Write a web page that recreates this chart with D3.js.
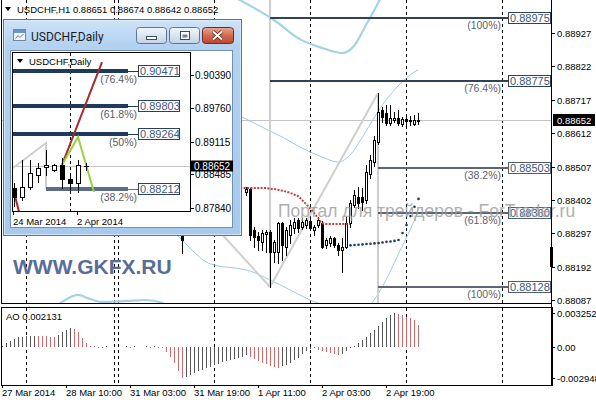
<!DOCTYPE html>
<html>
<head>
<meta charset="utf-8">
<script src="https://cdnjs.cloudflare.com/ajax/libs/d3/7.8.5/d3.min.js"></script>
<style>
  body { margin: 0; background: #fff; }
  svg { display: block; font-family: "Liberation Sans", Arial, sans-serif; }
</style>
</head>
<body>
<div id="chart"></div>
<script>
// ---------- data (H1 chart) ----------
var headerText = "USDCHF,H1 0.88651 0.88674 0.88642 0.88652";
var mainTicks = [0.88927, 0.88822, 0.88717, 0.88612, 0.88507, 0.88402, 0.88297, 0.88192, 0.88087];
var lastPrice = 0.88652;

var timeLabelK = [-77, -61, -45, -29, -13, 3, 19];
var timeLabels = ["27 Mar 2014", "28 Mar 10:00", "31 Mar 03:00", "31 Mar 19:00", "1 Apr 11:00", "2 Apr 03:00", "2 Apr 19:00"];
var separatorK = [-71, -49, -48, -24, 0, 24, 48];

// [bar, open, high, low, close]
var candles = [
  [-32, 0.88300, 0.88340, 0.88235, 0.88276],
  [-16, 0.88427, 0.88443, 0.88417, 0.88436],
  [-15, 0.88436, 0.88439, 0.88276, 0.88292],
  [-14, 0.88307, 0.88317, 0.88254, 0.88285],
  [-13, 0.88288, 0.88301, 0.88244, 0.88276],
  [-12, 0.88270, 0.88307, 0.88244, 0.88298],
  [-11, 0.88295, 0.88307, 0.88238, 0.88301],
  [-10, 0.88301, 0.88307, 0.88128, 0.88238],
  [-9, 0.88238, 0.88276, 0.88207, 0.88270],
  [-8, 0.88238, 0.88332, 0.88203, 0.88329],
  [-7, 0.88329, 0.88332, 0.88213, 0.88260],
  [-6, 0.88254, 0.88317, 0.88229, 0.88307],
  [-5, 0.88292, 0.88339, 0.88266, 0.88323],
  [-4, 0.88314, 0.88345, 0.88298, 0.88332],
  [-3, 0.88339, 0.88345, 0.88301, 0.88314],
  [-2, 0.88317, 0.88345, 0.88310, 0.88332],
  [-1, 0.88323, 0.88345, 0.88314, 0.88339],
  [0, 0.88336, 0.88342, 0.88307, 0.88314],
  [1, 0.88307, 0.88323, 0.88292, 0.88317],
  [2, 0.88323, 0.88348, 0.88317, 0.88339],
  [3, 0.88329, 0.88336, 0.88251, 0.88254],
  [4, 0.88260, 0.88282, 0.88251, 0.88276],
  [5, 0.88266, 0.88288, 0.88257, 0.88282],
  [6, 0.88282, 0.88285, 0.88254, 0.88260],
  [7, 0.88260, 0.88266, 0.88229, 0.88244],
  [8, 0.88244, 0.88282, 0.88175, 0.88254],
  [9, 0.88254, 0.88348, 0.88251, 0.88329],
  [10, 0.88329, 0.88402, 0.88317, 0.88392],
  [11, 0.88386, 0.88433, 0.88380, 0.88417],
  [12, 0.88411, 0.88443, 0.88376, 0.88392],
  [13, 0.88411, 0.88439, 0.88370, 0.88395],
  [14, 0.88402, 0.88512, 0.88392, 0.88490],
  [15, 0.88483, 0.88543, 0.88471, 0.88527],
  [16, 0.88521, 0.88603, 0.88509, 0.88590],
  [17, 0.88584, 0.88738, 0.88578, 0.88678],
  [18, 0.88685, 0.88694, 0.88647, 0.88663],
  [19, 0.88675, 0.88700, 0.88638, 0.88644],
  [20, 0.88644, 0.88700, 0.88638, 0.88660],
  [21, 0.88653, 0.88678, 0.88647, 0.88660],
  [22, 0.88660, 0.88685, 0.88638, 0.88644],
  [23, 0.88641, 0.88663, 0.88634, 0.88656],
  [24, 0.88656, 0.88663, 0.88628, 0.88650],
  [25, 0.88650, 0.88666, 0.88638, 0.88653],
  [26, 0.88641, 0.88669, 0.88638, 0.88653],
  [27, 0.88651, 0.88674, 0.88642, 0.88652]
];

var fibLevels = [0.88975, 0.88775, 0.88503, 0.88360, 0.88128];
var fibNames = ["(100%)", "(76.4%)", "(38.2%)", "(61.8%)", "(100%)"];
var fibFrom = [-10, -10, 17, 17, 17];
var fibSet = [1, 1, 2, 2, 2];
var fibTo = 49.5;

var redStart = -20;
var redValues = [0.88439, 0.88439, 0.88439, 0.88439, 0.88439, 0.88439, 0.88439, 0.88439, 0.88439, 0.88439,
  0.88437, 0.88436, 0.88434, 0.88431, 0.88428, 0.88424, 0.88419, 0.88414, 0.88402, 0.88389,
  0.88376, 0.88361, 0.88345, 0.88329, 0.88326, 0.88326, 0.88326, 0.88326, 0.88326, 0.88326, 0.88326];
var navyStart = 10;
var navyValues = [0.88259, 0.88260, 0.88261, 0.88262, 0.88263, 0.88264, 0.88265, 0.88266, 0.88268,
  0.88270, 0.88271, 0.88273, 0.88276, 0.88298, 0.88323, 0.88351, 0.88380, 0.88405];

var bandThickUpper = [[-20, 0.89047], [-14, 0.89006], [-9, 0.88968], [-3, 0.88911], [3, 0.88880], [8, 0.88864],
  [11, 0.88886], [14, 0.88952], [17, 0.89021], [18, 0.89047]];
var bandThickLower = [[-64, 0.88062], [-62, 0.88081], [-58, 0.88103], [-55, 0.88090], [-52, 0.88081],
  [-46, 0.88084], [-41, 0.88087], [-37, 0.88078], [-35, 0.88059]];
var bandMiddle = [[-20, 0.88679], [-17, 0.88663], [-12, 0.88631], [-7, 0.88600], [-2, 0.88565], [3, 0.88537],
  [7, 0.88521], [10, 0.88543], [13, 0.88597], [16, 0.88660], [19, 0.88716], [22, 0.88760], [25, 0.88795], [27, 0.88811]];
var bandLower = [[-34, 0.88301], [-32, 0.88276], [-29, 0.88238], [-26, 0.88207], [-23, 0.88194], [-19, 0.88188],
  [-15, 0.88178], [-10, 0.88150], [-5, 0.88119], [0, 0.88087], [5, 0.88062], [10, 0.88030], [14, 0.88056],
  [16, 0.88087], [19, 0.88150], [22, 0.88229], [25, 0.88307], [27, 0.88364]];
var fiboTrends = [
  [[-40, 0.88543], [-10, 0.88128]],
  [[-10, 0.88128], [17, 0.88738]],
  [[-10, 0.89050], [-10, 0.88128]],
  [[17, 0.88738], [17, 0.88040]]
];

var aoStart = -77;
var aoValues = [
  0.00015, 0.00040, 0.00060, 0.00080, 0.00092, 0.00100, 0.00104, 0.00108, 0.00110, 0.00107,
  0.00105, 0.00103, 0.00101, 0.00098, 0.00115, 0.00140, 0.00163, 0.00182, 0.00170, 0.00140,
  0.00085, 0.00035, 0.00010, 0.00006, -0.00004, -0.00003, 0.00004, 0, 0, 0,
  0, 0.00004, -0.00003, 0.00003, 0, 0, 0.00004, -0.00004, 0.00003, -0.00005,
  -0.00012, -0.00045, -0.00095, -0.00155, -0.00225, -0.00295, -0.00282, -0.00262, -0.00243, -0.00228,
  -0.00215, -0.00200, -0.00188, -0.00175, -0.00160, -0.00145, -0.00132, -0.00120, -0.00110, -0.00100,
  -0.00090, -0.00080, -0.00092, -0.00110, -0.00130, -0.00150, -0.00166, -0.00180, -0.00190, -0.00195,
  -0.00185, -0.00170, -0.00150, -0.00125, -0.00100, -0.00070, -0.00042, -0.00020, -0.00012, -0.00025,
  -0.00035, -0.00045, -0.00056, -0.00066, -0.00078, -0.00062, -0.00038, -0.00012, 0.00015, 0.00040,
  0.00070, 0.00100, 0.00132, 0.00166, 0.00202, 0.00240, 0.00276, 0.00305, 0.00325, 0.00318,
  0.00305, 0.00290, 0.00275, 0.00262, 0.00213
];
var aoTicks = [0.003252, 0, -0.002948];
var aoTickLabels = ["0.003252", "0.00", "-0.002948"];
var aoText = "AO 0.002131";

// ---------- data (Daily inset) ----------
var insetTitle = "USDCHF,Daily";
var insetTicks = [0.90390, 0.89760, 0.89115, 0.88485, 0.87840];
var insetCandles = [
  [0, 0.88224, 0.88320, 0.87879, 0.88051],
  [1, 0.88051, 0.88761, 0.87994, 0.88243],
  [2, 0.88243, 0.88761, 0.88205, 0.88511],
  [3, 0.88473, 0.88703, 0.88339, 0.88607],
  [4, 0.88626, 0.88952, 0.88473, 0.88665],
  [5, 0.88569, 0.88684, 0.88550, 0.88665],
  [6, 0.88665, 0.88799, 0.88224, 0.88396],
  [7, 0.88396, 0.88511, 0.88128, 0.88320],
  [8, 0.88320, 0.88761, 0.88147, 0.88665],
  [9, 0.88640, 0.88703, 0.88569, 0.88652]
];
var insetFibLevels = [0.90471, 0.89803, 0.89264, 0.88212];
var insetFibNames = ["(76.4%)", "(61.8%)", "(50%)", "(38.2%)"];
var insetFibFrom = [-1, -1, -1, 4];
var insetFibTo = 14.25;
var insetRed = [[6, 0.88665], [11, 0.90639]];
var insetRed2 = [[-0.125, 0.88224], [0.625, 0.87764]];
var insetGreen = [[6, 0.88665], [8, 0.89201], [10, 0.88147]];
var insetGray = [[-0.125, 0.88607], [4, 0.89086], [4, 0.88212]];
var insetTimeK = [0, 8];
var insetTimeLabels = ["24 Mar 2014", "2 Apr 2014"];
var insetSeparatorK = [7];

// ---------- scales ----------
var width = 596, height = 400;
var axisX = 552, mainBottom = 304, aoTop = 307, aoBottom = 385;

var x = d3.scaleLinear().domain([-77, 27]).range([2, 418]);
var y = d3.scaleLinear().domain([0.88087, 0.88927]).range([300, 33]);
var yAO = d3.scaleLinear().domain([-0.002948, 0.003252]).range([378, 313]);
var xIn = d3.scaleLinear().domain([0, 9]).range([14, 86]);
var yIn = d3.scaleLinear().domain([0.87840, 0.90390]).range([208, 75]);

var svg = d3.select("#chart").append("svg").attr("width", width).attr("height", height);
var defs = svg.append("defs");
defs.append("clipPath").attr("id", "clipMain").append("rect")
  .attr("x", 2).attr("y", 0).attr("width", axisX - 2).attr("height", mainBottom - 1);
defs.append("clipPath").attr("id", "clipIn").append("rect")
  .attr("x", 13).attr("y", 53).attr("width", 177).attr("height", 158);

function grad(id, stops) {
  var g = defs.append("linearGradient").attr("id", id).attr("x1", 0).attr("x2", 0).attr("y1", 0).attr("y2", 1);
  stops.forEach(function (s) { g.append("stop").attr("offset", s[0]).attr("stop-color", s[1]); });
}
grad("frameGrad", [[0, "#cfe3f7"], [0.12, "#b3d2f1"], [1, "#a6c9ed"]]);
grad("btnGrad", [[0, "#f1f5fa"], [0.5, "#dbe5f0"], [1, "#c2d2e5"]]);
grad("closeGrad", [[0, "#e8a690"], [0.5, "#d46a52"], [1, "#c0442d"]]);

function rnd(v) { return Math.round(v); }

function drawCandles(g, data, xs, ys, half) {
  data.forEach(function (d) {
    var cx = rnd(xs(d[0]));
    var yo = rnd(ys(d[1])), yh = rnd(ys(d[2])), yl = rnd(ys(d[3])), yc = rnd(ys(d[4]));
    var top = Math.min(yo, yc), bot = Math.max(yo, yc);
    g.append("line").attr("x1", cx + 0.5).attr("x2", cx + 0.5).attr("y1", yh).attr("y2", yl + 1)
      .attr("stroke", "#000");
    if (bot - top < 1) {
      g.append("line").attr("x1", cx - half).attr("x2", cx + half + 1).attr("y1", top + 0.5).attr("y2", top + 0.5)
        .attr("stroke", "#000");
    } else if (d[4] >= d[1]) {
      g.append("rect").attr("x", cx - half + 0.5).attr("y", top + 0.5)
        .attr("width", 2 * half).attr("height", bot - top).attr("fill", "#fff").attr("stroke", "#000");
    } else {
      g.append("rect").attr("x", cx - half).attr("y", top)
        .attr("width", 2 * half + 1).attr("height", bot - top + 1).attr("fill", "#000");
    }
  });
}

// ---------- main H1 chart ----------
separatorK.forEach(function (k) {
  var sx = rnd(x(k)) + 0.5;
  svg.append("line").attr("x1", sx).attr("x2", sx).attr("y1", 0).attr("y2", mainBottom)
    .attr("stroke", "#000").attr("stroke-dasharray", "3,3");
  svg.append("line").attr("x1", sx).attr("x2", sx).attr("y1", aoTop + 1).attr("y2", aoBottom)
    .attr("stroke", "#000").attr("stroke-dasharray", "3,3");
});

var main = svg.append("g").attr("clip-path", "url(#clipMain)");
var lineP = d3.line().x(function (d) { return x(d[0]); }).y(function (d) { return y(d[1]); });
var curveP = d3.line().x(function (d) { return x(d[0]); }).y(function (d) { return y(d[1]); }).curve(d3.curveMonotoneX);

main.append("line").attr("x1", 2).attr("x2", axisX).attr("y1", rnd(y(lastPrice)) + 0.5).attr("y2", rnd(y(lastPrice)) + 0.5)
  .attr("stroke", "#c4c4c4");

[bandThickUpper, bandThickLower].forEach(function (b) {
  main.append("path").attr("d", curveP(b)).attr("fill", "none").attr("stroke", "#a6d2e8").attr("stroke-width", 2.2);
});
[bandMiddle, bandLower].forEach(function (b) {
  main.append("path").attr("d", curveP(b)).attr("fill", "none").attr("stroke", "#a3cbe0").attr("stroke-width", 1);
});
fiboTrends.forEach(function (t) {
  main.append("path").attr("d", lineP(t)).attr("fill", "none").attr("stroke", "#cfcfcf").attr("stroke-width", 2);
});

fibLevels.forEach(function (lv, i) {
  var ly = rnd(y(lv));
  main.append("line").attr("x1", x(fibFrom[i])).attr("x2", x(fibTo)).attr("y1", ly).attr("y2", ly)
    .attr("stroke", fibSet[i] === 1 ? "#2f4357" : "#5b6672").attr("stroke-width", 2);
});

drawCandles(main, candles, x, y, 1);

var redLine = redValues.map(function (v, i) { return [redStart + i, v]; });
main.append("path").attr("d", curveP(redLine)).attr("fill", "none").attr("stroke", "#cc3a3a")
  .attr("stroke-width", 2).attr("stroke-dasharray", "2,1.4");
main.selectAll("circle.navy").data(navyValues).enter().append("circle")
  .attr("cx", function (d, i) { return x(navyStart + i) + 0.5; })
  .attr("cy", function (d) { return y(d); })
  .attr("r", 1.3).attr("fill", "#1d3b63");

fibLevels.forEach(function (lv, i) {
  var ly = rnd(y(lv));
  var bx = x(fibTo);
  svg.append("rect").attr("x", bx + 0.5).attr("y", ly - 5.5).attr("width", 42).attr("height", 11)
    .attr("fill", "#fff").attr("stroke", fibSet[i] === 1 ? "#2f4357" : "#4f5c6a");
  svg.append("text").attr("x", bx + 2).attr("y", ly + 4).attr("font-size", 11).attr("fill", "#40597a").text(lv.toFixed(5));
  svg.append("text").attr("x", bx - 7).attr("y", ly + 11).attr("text-anchor", "end").attr("font-size", 10.5)
    .attr("fill", "#5a6270").text(fibNames[i]);
});

// watermarks
svg.append("text").attr("x", 278).attr("y", 217).attr("font-size", 17.5).attr("fill", "#9c9c9c").attr("opacity", 0.8)
  .text("Портал для трейдеров - ForTrader.ru");
svg.append("text").attr("x", 13).attr("y", 274).attr("font-size", 21).attr("font-weight", "bold").attr("fill", "#596d98")
  .text("WWW.GKFX.RU");

// header
svg.append("path").attr("d", "M5,7 L11,7 L8,11 Z").attr("fill", "#000");
svg.append("text").attr("x", 17).attr("y", 12.5).attr("font-size", 9.5).attr("fill", "#000").text(headerText);

// ---------- AO panel ----------
var ao = svg.append("g").attr("shape-rendering", "crispEdges");
var y0 = rnd(yAO(0));
aoValues.forEach(function (v, i) {
  if (v === 0) return;
  var bx = rnd(x(aoStart + i));
  var yv = rnd(yAO(v));
  if (yv === y0) yv = v > 0 ? y0 - 1 : y0 + 1;
  var down = i > 0 && v < aoValues[i - 1];
  ao.append("rect").attr("x", bx).attr("y", Math.min(y0, yv)).attr("width", 1).attr("height", Math.abs(yv - y0))
    .attr("fill", down ? "#cf6a6a" : "#555");
});
svg.append("text").attr("x", 6).attr("y", 320).attr("font-size", 9.5).attr("fill", "#000").text(aoText);

// ---------- frames & axes ----------
var frame = svg.append("g").attr("shape-rendering", "crispEdges").attr("stroke", "#000").attr("fill", "none");
frame.append("line").attr("x1", 1.5).attr("x2", 1.5).attr("y1", 0).attr("y2", mainBottom);
frame.append("line").attr("x1", 1.5).attr("x2", axisX).attr("y1", mainBottom - 0.5).attr("y2", mainBottom - 0.5);
frame.append("rect").attr("x", 1.5).attr("y", aoTop + 0.5).attr("width", axisX - 1.5).attr("height", aoBottom - aoTop);
frame.append("line").attr("x1", axisX - 0.5).attr("x2", axisX - 0.5).attr("y1", 0).attr("y2", aoBottom + 1);

mainTicks.forEach(function (t) {
  var ty = rnd(y(t)) + 0.5;
  frame.append("line").attr("x1", axisX).attr("x2", axisX + 3).attr("y1", ty).attr("y2", ty);
  svg.append("text").attr("x", 557).attr("y", ty + 3.5).attr("font-size", 9.5).attr("fill", "#000").text(t.toFixed(5));
});
aoTicks.forEach(function (t, i) {
  var ty = rnd(yAO(t)) + 0.5;
  frame.append("line").attr("x1", axisX).attr("x2", axisX + 3).attr("y1", ty).attr("y2", ty);
  svg.append("text").attr("x", 557).attr("y", ty + 3.5).attr("font-size", 9.5).attr("fill", "#000").text(aoTickLabels[i]);
});
var py = rnd(y(lastPrice));
svg.append("rect").attr("x", 553).attr("y", py - 6).attr("width", 42).attr("height", 12).attr("fill", "#000");
svg.append("text").attr("x", 557).attr("y", py + 3.5).attr("font-size", 9.5).attr("fill", "#fff").text(lastPrice.toFixed(5));
svg.append("rect").attr("x", 550).attr("y", 247).attr("width", 3).attr("height", 20).attr("fill", "#000");

timeLabelK.forEach(function (k, i) {
  var tx = rnd(x(k)) + 0.5;
  frame.append("line").attr("x1", tx).attr("x2", tx).attr("y1", aoBottom + 1).attr("y2", aoBottom + 3);
  svg.append("text").attr("x", tx - 0.5).attr("y", 396).attr("font-size", 9.5).attr("fill", "#000").text(timeLabels[i]);
});

// ---------- Daily inset window ----------
var win = svg.append("g");
win.append("rect").attr("x", 3.5).attr("y", 19.5).attr("width", 238).attr("height", 216)
  .attr("fill", "url(#frameGrad)").attr("stroke", "#55779a");
win.append("rect").attr("x", 4.5).attr("y", 20.5).attr("width", 236).attr("height", 214)
  .attr("fill", "none").attr("stroke", "#dcebfa").attr("stroke-opacity", 0.8);
win.append("rect").attr("x", 10.5).attr("y", 50.5).attr("width", 222).attr("height", 177)
  .attr("fill", "#fff").attr("stroke", "#7390b0");
// icon
win.append("rect").attr("x", 13.5).attr("y", 29.5).attr("width", 12).attr("height", 11).attr("fill", "#f3f7fb").attr("stroke", "#6d88a6");
win.append("rect").attr("x", 14).attr("y", 30).attr("width", 11).attr("height", 3).attr("fill", "#6c95c6");
win.append("path").attr("d", "M15.5,38.5 L18,35.5 L20,37.5 L23.5,34").attr("fill", "none").attr("stroke", "#5b7da6");
win.append("text").attr("x", 31).attr("y", 41).attr("font-family", "Roboto, 'Liberation Sans', sans-serif")
  .attr("font-size", 12).attr("fill", "#1b1b1b").text(insetTitle);
// caption buttons
[136.5, 169.5].forEach(function (bx) {
  win.append("rect").attr("x", bx).attr("y", 27.5).attr("width", 30).attr("height", 16).attr("rx", 3)
    .attr("fill", "url(#btnGrad)").attr("stroke", "#5d7696");
});
win.append("rect").attr("x", 202.5).attr("y", 27.5).attr("width", 31).attr("height", 16).attr("rx", 3)
  .attr("fill", "url(#closeGrad)").attr("stroke", "#6e2c20");
win.append("rect").attr("x", 146.5).attr("y", 36.5).attr("width", 10).attr("height", 3)
  .attr("fill", "#fff").attr("stroke", "#3c4c60");
win.append("rect").attr("x", 180.5).attr("y", 31.5).attr("width", 9).attr("height", 8)
  .attr("fill", "#fff").attr("stroke", "#3c4c60");
win.append("rect").attr("x", 182.5).attr("y", 34.5).attr("width", 5).attr("height", 3)
  .attr("fill", "#6d7f95").attr("stroke", "none");
win.append("path").attr("d", "M213,31.5 L222,39.5 M222,31.5 L213,39.5").attr("stroke", "#5a2216").attr("stroke-width", 3.6);
win.append("path").attr("d", "M213,31.5 L222,39.5 M222,31.5 L213,39.5").attr("stroke", "#fff").attr("stroke-width", 2);

// inner chart
win.append("rect").attr("x", 12.5).attr("y", 52.5).attr("width", 178).attr("height", 159)
  .attr("fill", "#fff").attr("stroke", "#000");
var inner = win.append("g").attr("clip-path", "url(#clipIn)");
var lineIn = d3.line().x(function (d) { return xIn(d[0]); }).y(function (d) { return yIn(d[1]); });

insetSeparatorK.forEach(function (k) {
  var sx = rnd(xIn(k)) + 0.5;
  inner.append("line").attr("x1", sx).attr("x2", sx).attr("y1", 53).attr("y2", 211)
    .attr("stroke", "#000").attr("stroke-dasharray", "3,3");
});
inner.append("line").attr("x1", 13).attr("x2", 190).attr("y1", rnd(yIn(lastPrice)) + 0.5).attr("y2", rnd(yIn(lastPrice)) + 0.5)
  .attr("stroke", "#c4c4c4");
inner.append("path").attr("d", lineIn(insetGray)).attr("fill", "none").attr("stroke", "#cfcfcf").attr("stroke-width", 2);

insetFibLevels.forEach(function (lv, i) {
  var ly = rnd(yIn(lv));
  var col = i < 3 ? "#1f3b5c" : "#5c6d8c";
  inner.append("line").attr("x1", xIn(insetFibFrom[i])).attr("x2", xIn(insetFibTo)).attr("y1", ly).attr("y2", ly)
    .attr("stroke", col).attr("stroke-width", 4);
  inner.append("line").attr("x1", xIn(insetFibTo)).attr("x2", 138).attr("y1", ly + 0.5).attr("y2", ly + 0.5)
    .attr("stroke", col).attr("stroke-width", 1);
});
inner.append("path").attr("d", lineIn(insetRed)).attr("fill", "none").attr("stroke", "#a82a2a").attr("stroke-width", 2);
inner.append("path").attr("d", lineIn(insetRed2)).attr("fill", "none").attr("stroke", "#a82a2a").attr("stroke-width", 2);
inner.append("path").attr("d", lineIn(insetGreen)).attr("fill", "none").attr("stroke", "#9bd13a").attr("stroke-width", 2);

drawCandles(inner, insetCandles, xIn, yIn, 2);

insetFibLevels.forEach(function (lv, i) {
  var ly = rnd(yIn(lv));
  inner.append("rect").attr("x", 138.5).attr("y", ly - 5.5).attr("width", 41).attr("height", 11)
    .attr("fill", "#fff").attr("stroke", "#2c4058");
  inner.append("text").attr("x", 140).attr("y", ly + 4).attr("font-size", 11).attr("fill", "#3f5a7c").text(lv.toFixed(5));
  inner.append("text").attr("x", 137).attr("y", ly + 12).attr("text-anchor", "end").attr("font-size", 10.5)
    .attr("fill", "#555e6c").text(insetFibNames[i]);
});

win.append("path").attr("d", "M17,59 L23,59 L20,63 Z").attr("fill", "#000");
win.append("text").attr("x", 29).attr("y", 65).attr("font-size", 9.5).attr("fill", "#000").text(insetTitle);

insetTicks.forEach(function (t) {
  var ty = rnd(yIn(t)) + 0.5;
  win.append("line").attr("x1", 191).attr("x2", 194).attr("y1", ty).attr("y2", ty).attr("stroke", "#000");
  win.append("text").attr("x", 195).attr("y", ty + 3.5).attr("font-size", 10).attr("fill", "#000").text(t.toFixed(5));
});
var ipy = rnd(yIn(lastPrice));
win.append("rect").attr("x", 190).attr("y", ipy - 5.5).attr("width", 43).attr("height", 11).attr("fill", "#000");
win.append("text").attr("x", 194).attr("y", ipy + 4).attr("font-size", 10).attr("fill", "#fff").text(lastPrice.toFixed(5));

insetTimeK.forEach(function (k, i) {
  var tx = rnd(xIn(k)) - 0.5;
  win.append("line").attr("x1", tx).attr("x2", tx).attr("y1", 212).attr("y2", 215).attr("stroke", "#000");
  win.append("text").attr("x", tx - 0.5).attr("y", 225).attr("font-size", 9.5).attr("fill", "#000").text(insetTimeLabels[i]);
});
</script>
</body>
</html>
